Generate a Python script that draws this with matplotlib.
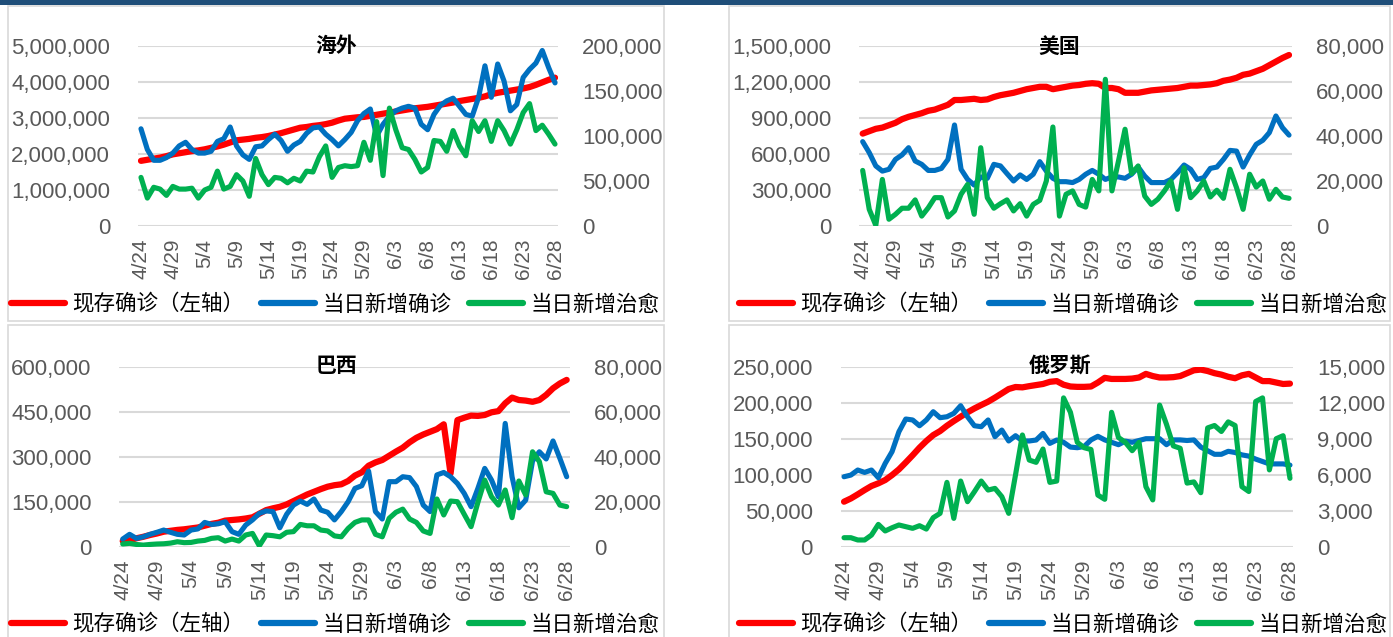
import matplotlib
matplotlib.use("Agg")
from matplotlib import pyplot as plt
from matplotlib.lines import Line2D
from matplotlib.patches import Rectangle
from matplotlib.ticker import FuncFormatter
import numpy as np
import pandas as pd

plt.rcParams['font.family'] = ['Liberation Sans', 'Noto Sans CJK SC', 'DejaVu Sans']

# dates 4/24 .. 6/28
dates = pd.date_range('2020-04-24', '2020-06-28')
date_labels = [f"{d.month}/{d.day}" for d in dates]
series_names = ['现存确诊（左轴）', '当日新增确诊', '当日新增治愈']
titles = ['海外', '美国', '巴西', '俄罗斯']

# 海外 (thousands)
world_cur = [1810, 1840, 1870, 1900, 1940, 1990, 2020, 2050, 2080, 2100,
             2130, 2170, 2210, 2260, 2320, 2380, 2400, 2420, 2450, 2470,
             2500, 2540, 2580, 2630, 2680, 2730, 2750, 2780, 2800, 2830,
             2870, 2930, 2980, 3000, 3020, 3030, 3060, 3090, 3120, 3150,
             3180, 3210, 3240, 3270, 3290, 3310, 3340, 3370, 3400, 3430,
             3470, 3500, 3530, 3560, 3600, 3660, 3700, 3730, 3760, 3790,
             3820, 3860, 3920, 3990, 4060, 4120]
world_new = [108, 85, 73, 73, 76, 81, 89, 93, 85, 81,
             81, 83, 94, 97, 110, 89, 79, 74, 88, 89,
             96, 102, 95, 83, 90, 94, 103, 109, 110, 102,
             96, 89, 96, 104, 117, 125, 130, 100, 113, 122,
             128, 131, 133, 131, 113, 107, 124, 134, 139, 142,
             133, 124, 122, 143, 178, 143, 180, 161, 128, 135,
             165, 174, 181, 195, 176, 159]
world_cured = [54, 31, 43, 41, 34, 44, 41, 41, 42, 31,
               40, 43, 61, 41, 44, 57, 50, 33, 75, 57,
               46, 54, 53, 48, 53, 50, 61, 60, 77, 89,
               54, 65, 67, 66, 67, 93, 73, 116, 56, 131,
               107, 87, 85, 74, 60, 65, 95, 94, 83, 106,
               89, 78, 117, 105, 117, 94, 117, 106, 91, 107,
               126, 136, 106, 112, 102, 91]

# 美国 (thousands)
us_cur = [770, 790, 810, 820, 840, 860, 890, 910, 925, 940,
          960, 970, 990, 1010, 1050, 1050, 1055, 1060, 1050, 1055,
          1075, 1090, 1100, 1110, 1125, 1140, 1150, 1160, 1160, 1140,
          1150, 1160, 1170, 1175, 1185, 1190, 1185, 1150, 1150, 1140,
          1110, 1110, 1110, 1120, 1130, 1135, 1140, 1145, 1150, 1160,
          1170, 1170, 1175, 1180, 1190, 1210, 1220, 1235, 1260, 1270,
          1290, 1310, 1340, 1370, 1400, 1425]
us_new = [37.5, 32.6, 26.7, 24.4, 25.2, 29.6, 31.6, 34.8, 28.9, 27.4,
          24.7, 24.7, 25.6, 29.6, 44.9, 25.2, 20.7, 18.2, 21.8, 21.2,
          27.4, 26.7, 23.3, 20.0, 22.7, 20.7, 23.0, 28.6, 24.4, 21.2,
          19.7, 19.7, 19.3, 20.7, 23.0, 24.7, 23.0, 20.7, 21.8, 21.8,
          21.2, 23.0, 26.2, 22.2, 19.3, 19.3, 19.3, 20.7, 23.7, 27.1,
          25.2, 20.7, 21.5, 25.6, 26.2, 29.6, 33.6, 33.3, 26.2, 31.6,
          36.3, 38.1, 41.5, 48.9, 43.7, 40.4]
us_cured = [24.7, 7.4, 0.3, 20.7, 3.0, 5.2, 7.9, 7.9, 11.6, 4.4,
            8.1, 12.6, 12.6, 4.0, 6.7, 14.1, 18.5, 5.2, 34.8, 12.6,
            7.9, 9.9, 11.6, 6.7, 9.9, 4.4, 9.6, 11.4, 20.0, 44.0,
            4.4, 14.1, 15.6, 9.6, 8.4, 20.7, 15.6, 65.2, 15.6, 28.9,
            43.0, 23.3, 26.7, 13.3, 9.6, 11.9, 15.6, 20.0, 7.4, 25.9,
            12.6, 15.6, 20.0, 12.9, 15.9, 12.3, 25.2, 17.0, 7.4, 23.0,
            17.3, 20.0, 11.9, 16.3, 12.9, 12.3]

# 巴西 (thousands)
br_cur = [19, 21, 28, 33, 39, 44, 50, 53, 56, 58,
          61, 64, 70, 76, 80, 87, 89, 91, 94, 98,
          110, 122, 128, 133, 141, 152, 163, 174, 183, 192,
          200, 205, 208, 219, 237, 248, 270, 281, 289, 303,
          317, 330, 348, 363, 374, 383, 392, 408, 244, 422,
          430, 437, 436, 439, 448, 452, 478, 497, 489, 487,
          483, 489, 506, 528, 544, 556]
br_new = [3.4, 5.5, 3.7, 4.4, 5.5, 6.4, 7.4, 6.4, 5.5, 5.2,
          7.4, 7.9, 10.8, 9.9, 10.2, 11.1, 6.7, 5.5, 9.6, 11.9,
          14.8, 15.9, 15.6, 8.4, 14.4, 18.5, 20.3, 18.8, 21.2, 16.3,
          15.3, 11.9, 15.6, 20.0, 25.9, 27.1, 33.6, 15.6, 12.3, 28.9,
          28.9, 31.1, 30.7, 26.7, 18.5, 15.6, 31.9, 33.0, 31.1, 28.1,
          23.7, 17.8, 25.9, 34.8, 29.6, 22.2, 54.8, 31.1, 17.3, 20.7,
          38.1, 42.2, 39.0, 47.0, 39.3, 31.1]
br_cured = [1.2, 1.5, 1.0, 0.7, 1.0, 1.2, 1.3, 1.6, 2.2, 1.8,
            1.9, 2.5, 2.8, 3.7, 4.0, 2.5, 3.4, 2.5, 5.2, 5.9,
            0.4, 5.2, 4.9, 4.4, 6.4, 6.7, 9.9, 9.3, 9.3, 7.4,
            7.0, 4.8, 4.4, 8.1, 10.8, 11.9, 11.9, 5.5, 4.4, 12.6,
            15.3, 16.7, 12.3, 10.8, 7.0, 5.9, 21.2, 14.1, 20.3, 20.0,
            14.4, 8.9, 19.7, 29.6, 22.2, 18.5, 25.2, 12.9, 29.2, 23.0,
            42.2, 37.8, 24.4, 23.7, 18.5, 17.8]

# 俄罗斯 (thousands)
ru_cur = [62.5, 67, 72.7, 78.7, 84.3, 88, 92.6, 99.5, 107.4, 117,
          127, 137.5, 146.8, 155, 160.6, 168, 174.5, 180.6, 186.6, 192,
          196.8, 201.4, 207, 213, 219, 221.8, 221.3, 223, 224.5, 226,
          229, 230, 225, 222.5, 222, 222, 222.5, 228, 234.5, 233,
          233, 233, 233.5, 235, 240, 237, 235, 235, 235.5, 237,
          241, 245, 246, 244, 241, 239, 236, 234, 238, 240,
          235, 230, 230, 228, 226, 226.5]
ru_new = [5.83, 5.97, 6.39, 6.19, 6.39, 5.75, 6.94, 7.92, 9.58, 10.64,
          10.56, 10.08, 10.56, 11.25, 10.75, 10.83, 11.11, 11.75, 10.83, 10.08,
          10.0, 10.56, 9.17, 9.72, 8.81, 9.25, 8.81, 8.81, 8.89, 9.44,
          8.61, 8.89, 8.7, 8.3, 8.25, 8.35, 8.9, 9.2, 8.9, 8.7,
          8.5, 8.8, 8.7, 8.85, 9.0, 9.0, 9.0, 8.5, 8.9, 8.9,
          8.85, 8.9, 8.3, 8.0, 7.7, 7.7, 7.95, 7.85, 7.65, 7.55,
          7.3, 7.1, 6.9, 6.9, 6.9, 6.8]
ru_cured = [0.75, 0.75, 0.56, 0.56, 0.97, 1.86, 1.31, 1.58, 1.81, 1.67,
            1.53, 1.75, 1.47, 2.42, 2.78, 5.36, 2.36, 5.47, 3.75, 4.58,
            5.47, 4.72, 4.86, 4.17, 2.78, 6.0, 9.31, 7.22, 7.03, 8.14,
            5.36, 5.47, 12.4, 11.2, 8.7, 8.25, 8.1, 4.3, 3.95, 11.2,
            9.1, 8.7, 8.0, 8.7, 5.0, 3.9, 11.8, 10.2, 8.4, 8.2,
            5.3, 5.4, 4.5, 9.9, 10.1, 9.6, 10.4, 10.1, 5.0, 4.6,
            12.1, 12.4, 6.4, 9.0, 9.25, 5.7]

left_ticks = [np.arange(0, 5000001, 1000000), np.arange(0, 1500001, 300000),
              np.arange(0, 600001, 150000), np.arange(0, 250001, 50000)]
right_ticks = [np.arange(0, 200001, 50000), np.arange(0, 80001, 20000),
               np.arange(0, 80001, 20000), np.arange(0, 15001, 3000)]

data = [(world_cur, world_new, world_cured), (us_cur, us_new, us_cured),
        (br_cur, br_new, br_cured), (ru_cur, ru_new, ru_cured)]

# layout (figure pixels)
W, H = 1393, 637
ax_px = [(137.8, 558.2, 46, 226), (859.4, 1292.3, 46, 226),
         (119.3, 570.1, 366.7, 546.7), (840.6, 1293.4, 366.7, 546.7)]
title_px = [(336, 46.5), (1059, 46.5), (336, 366.5), (1060, 366.5)]
legend_px = [(335, 305), (1063, 305), (335, 625), (1063, 625)]
boxes_px = [(8, 6, 664, 321), (729, 6, 1390, 321), (8, 325, 664, 645), (729, 325, 1390, 645)]

RED, BLUE, GREEN = '#FF0000', '#0070C0', '#00B050'
GRAY = '#595959'

fig = plt.figure(figsize=(W / 100, H / 100), dpi=100)

# top bar
fig.patches.append(Rectangle((0, 1 - 5 / H), 1, 5 / H, transform=fig.transFigure,
                             facecolor='#1F4E79', edgecolor='none'))
for x0, y0, x1, y1 in boxes_px:
    fig.patches.append(Rectangle((x0 / W, 1 - y1 / H), (x1 - x0) / W, (y1 - y0) / H,
                                 transform=fig.transFigure, facecolor='none',
                                 edgecolor='#D9D9D9', lw=1.2))

fmt = FuncFormatter(lambda v, p: f"{v:,.0f}")
x = np.arange(len(dates))

for i in range(4):
    x0, x1, ytop, ybot = ax_px[i]
    ax = fig.add_axes([x0 / W, 1 - ybot / H, (x1 - x0) / W, (ybot - ytop) / H])
    ax2 = ax.twinx()
    cur, new, cured = data[i]
    ax.plot(x, np.array(cur) * 1000, color=RED, lw=4.5, solid_capstyle='round',
            solid_joinstyle='round')
    ax2.plot(x, np.array(new) * 1000, color=BLUE, lw=3.7, solid_capstyle='round',
             solid_joinstyle='round')
    ax2.plot(x, np.array(cured) * 1000, color=GREEN, lw=3.7, solid_capstyle='round',
             solid_joinstyle='round')

    lt, rt = left_ticks[i], right_ticks[i]
    ax.set_ylim(0, lt[-1])
    ax.set_yticks(lt)
    ax2.set_ylim(0, rt[-1])
    ax2.set_yticks(rt)
    ax.yaxis.set_major_formatter(fmt)
    ax2.yaxis.set_major_formatter(fmt)
    ax.set_xlim(-0.5, len(x) - 0.5)
    ax.set_xticks(x[::5])
    ax.set_xticklabels(date_labels[::5], rotation=90)
    ax.grid(axis='y', color='#D9D9D9', lw=1.5)
    ax.set_axisbelow(True)
    for a in (ax, ax2):
        for s in a.spines.values():
            s.set_visible(False)
    ax.tick_params(axis='y', length=0, pad=20, labelsize=16, labelcolor=GRAY)
    ax2.tick_params(axis='y', length=0, pad=17, labelsize=16, labelcolor=GRAY)
    ax.tick_params(axis='x', length=0, pad=9, labelsize=15, labelcolor=GRAY)

    tx, ty = title_px[i]
    fig.text(tx / W, 1 - ty / H, titles[i], ha='center', va='center',
             fontsize=15, fontweight='bold', color='black')

    handles = [Line2D([], [], color=c, lw=4.5, solid_capstyle='round')
               for c in (RED, BLUE, GREEN)]
    lx, ly = legend_px[i]
    fig.legend(handles, series_names, loc='center', bbox_to_anchor=(lx / W, 1 - ly / H),
               ncol=3, frameon=False, fontsize=15.5, handlelength=2.5, handletextpad=0.35,
               columnspacing=0.8, labelcolor='black', borderpad=0)

fig.savefig('out.png', dpi=100)
